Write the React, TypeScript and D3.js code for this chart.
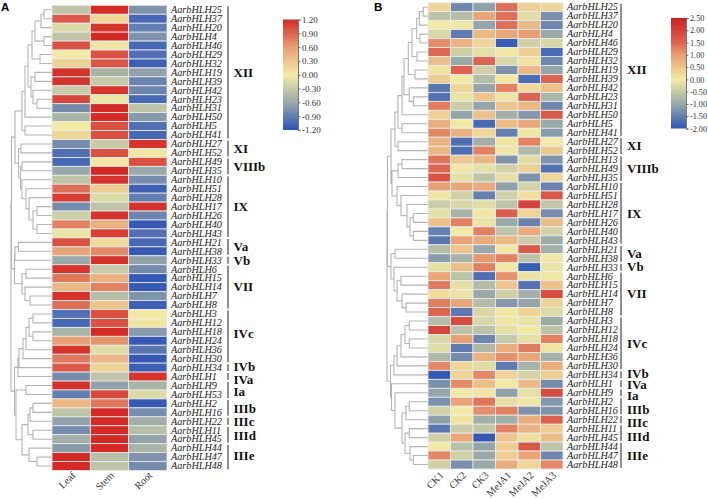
import { useEffect, useRef } from 'react';
import * as d3 from 'd3';

type TreeNode = number | (number | TreeNode)[];

const genesA = [25, 37, 20, 4, 46, 29, 32, 19, 39, 42, 23, 31, 50, 5, 41, 27, 52, 49, 35, 10, 51, 28, 17, 26, 40, 43, 21, 38, 33, 6, 15, 14, 7, 8, 3, 12, 18, 24, 36, 30, 34, 1, 9, 53, 2, 16, 22, 11, 45, 44, 47, 48];
const genesB = [25, 37, 20, 4, 46, 29, 32, 19, 39, 42, 23, 31, 50, 5, 41, 27, 52, 13, 49, 35, 10, 51, 28, 17, 26, 40, 43, 21, 38, 33, 6, 15, 14, 7, 8, 3, 12, 18, 24, 36, 30, 34, 1, 9, 2, 16, 22, 11, 45, 44, 47, 48];

const tissues = ['Leaf', 'Stem', 'Root'];
const treatments = ['CK1', 'CK2', 'CK3', 'MeJA1', 'MeJA2', 'MeJA3'];

const valuesA = [
  [-0.35, 1.2, -0.75], [0.95, 0.15, -1.05], [-0.15, 1.15, -0.9], [-0.35, 1.2, -0.75], [1.0, 0.05, -1.05],
  [0.0, 1.0, -1.0], [0.2, 0.98, -1.1], [1.15, -0.5, -0.65], [1.15, -0.3, -0.85], [-0.3, 1.15, -0.85],
  [1.05, -0.05, -1.05], [-0.8, 1.2, -0.35], [-0.5, 1.2, -0.7], [0.0, 1.0, -1.0], [0.15, 1.0, -1.05],
  [-0.8, -0.3, 1.15], [-1.0, 1.0, 0.03], [-1.05, 0.03, 1.0], [-0.6, 1.2, -0.6], [-0.35, 1.15, -0.8],
  [0.85, 0.25, -1.1], [1.1, -0.15, -0.9], [-0.8, -0.35, 1.15], [-0.25, 1.15, -0.85], [0.75, 0.45, -1.15],
  [-0.05, 1.1, -1.0], [1.0, 0.12, -1.05], [0.55, 0.7, -1.15], [-0.6, 1.15, -0.65], [1.15, -0.3, -0.8],
  [0.8, 0.45, -1.15], [0.4, 0.75, -1.15], [1.15, -0.4, -0.75], [0.85, 0.3, -1.1], [-1.0, 1.0, 0.02],
  [-1.05, 1.0, 0.03], [-0.5, 1.2, -0.7], [0.6, 0.65, -1.15], [1.15, -0.12, -0.95], [0.8, 0.4, -1.15],
  [0.95, 0.2, -1.1], [-0.8, -0.35, 1.15], [1.15, -0.65, -0.5], [-0.9, 1.05, -0.15], [0.4, 0.8, -1.15],
  [-0.35, 1.2, -0.8], [-0.65, 1.2, -0.55], [-0.8, 1.2, -0.4], [-0.55, 1.2, -0.65], [-0.7, 1.2, -0.5],
  [1.2, -0.4, -0.75], [1.2, -0.35, -0.8],
];

const valuesB = [
  [0.3, -1.4, -1.1, 1.4, 0.35, 0.25], [-0.6, -0.7, 0.9, 1.4, -0.2, -1.3], [0, -0.02, -1.05, 1.4, 0.65, -1.4],
  [-0.3, -1.55, 0.65, 0.9, 1.0, -1.0], [1.15, 0.75, 0.3, -1.9, -0.4, -0.3], [1.45, -0.4, -0.15, 0.05, 0.35, -1.75],
  [0.6, -1.0, 1.5, -0.3, 0.1, -1.4], [0.1, 1.55, -0.4, -1.25, 0.65, -1.05], [0.4, 0.02, -0.7, 0.02, -1.7, 1.5],
  [-1.6, 0.25, -1.05, 1.25, 0.2, 0.55], [-1.65, -0.1, 0.5, 0.1, 1.5, -0.8], [1.3, -0.45, -1.05, 0.5, 0.7, -1.4],
  [0.35, -1.05, 0.55, -0.9, -1.2, 1.65], [0.8, 0.02, -1.75, 0.6, 0.9, -1.0], [1.2, 0.75, 0.25, -1.5, 0.05, -1.15],
  [0.75, -1.7, -0.9, 0.1, 1.25, 0.0], [0.7, -1.7, 1.25, -0.05, -0.75, 0.45], [1.35, 0.45, 0.7, -1.25, -0.2, -1.25],
  [1.5, 0.03, -0.15, -0.4, 0.35, -1.65], [1.75, -0.15, -0.6, -0.15, -1.25, 0.25], [1.0, 0.9, 0.85, -1.1, -0.35, -1.45],
  [0.05, -0.4, -1.5, -0.4, 0.15, 1.7], [-0.45, -0.3, -0.2, -0.6, 2.0, -0.55], [-0.15, -0.85, 0.03, 1.6, 0.3, -1.35],
  [0.55, 1.25, -0.1, -1.0, -1.45, 0.6], [-1.5, 0.02, 1.25, -0.6, 0.85, -0.35], [-1.6, 0.95, 0.85, 0.65, -0.45, -0.95],
  [-0.7, 0.5, -1.0, 0.03, 1.65, -0.9], [-1.15, -0.85, 1.05, 1.25, -0.6, -0.02], [-0.15, 0.6, 1.25, 0.03, -1.9, -0.1],
  [0.9, -0.6, -1.7, 1.1, -0.1, -0.02], [1.3, -0.15, -0.7, 0.5, -1.65, 0.55], [0.2, -0.1, -1.0, -0.4, -0.9, 1.85],
  [1.3, 0.9, -0.7, -1.2, -1.05, 0.3], [1.5, -1.6, -0.3, 0.03, 0.3, -0.25], [-0.7, 1.85, -0.3, 0.05, -0.1, -0.95],
  [1.95, -0.6, -0.6, -0.15, 0.02, -0.6], [-0.3, 1.0, -1.4, -0.5, -0.15, 1.25], [-0.2, -1.55, -0.75, 0.8, 1.3, 0.1],
  [-0.75, -1.35, 0.75, 1.1, 0.9, -0.85], [1.2, 0.25, -0.2, -1.55, -0.85, 0.8], [-1.95, 0.3, 1.2, 0.3, -0.35, 0.35],
  [-1.3, 1.15, 0.6, 0.03, 0.65, -1.35], [-1.05, -0.02, 0.07, -1.1, -0.15, 1.85], [-1.3, 0.95, 1.35, -0.15, -0.02, -1.2],
  [-0.4, 0.02, 1.15, 1.25, -1.25, -1.25], [-1.1, 0.08, -0.9, -0.9, 0.8, 1.55], [-1.6, -0.45, -0.55, 1.25, 0.75, 0.4],
  [-0.4, 0.9, -1.95, 0.5, 0.15, 0.6], [0.02, -0.65, -1.05, 0.4, 1.7, -0.6], [1.2, -0.4, -1.0, 0.4, 0.95, -1.4],
  [-0.4, -1.3, -1.0, 0.85, 0.3, 1.2],
];

// subfamily name, first row, last row
const groupsA: [string, number, number][] = [
  ['XII', 0, 14], ['XI', 15, 16], ['VIIIb', 17, 18], ['IX', 19, 25], ['Va', 26, 27], ['Vb', 28, 28], ['VII', 29, 33],
  ['IVc', 34, 39], ['IVb', 40, 40], ['IVa', 41, 41], ['Ia', 42, 43], ['IIIb', 44, 45], ['IIIc', 46, 46], ['IIId', 47, 48], ['IIIe', 49, 51],
];
const groupsB: [string, number, number][] = [
  ['XII', 0, 14], ['XI', 15, 16], ['VIIIb', 17, 19], ['IX', 20, 26], ['Va', 27, 28], ['Vb', 29, 29], ['VII', 30, 34],
  ['IVc', 35, 40], ['IVb', 41, 41], ['IVa', 42, 42], ['Ia', 43, 43], ['IIIb', 44, 45], ['IIIc', 46, 46], ['IIId', 47, 48], ['IIIe', 49, 51],
];

// the labels are nudged off their bracket centre where they would collide
const labelShiftA = [0, 0, 0, 0, 0, 1, 0, -3, -1, 3, 2, 1, 1, 1, -1];
const labelShiftB = [0, 0, 0, 0, 0, 0, 0, 0, -1, 1, 3, 4, 3, 4, 0];

// clustering: [merge height, child, child], a plain number is a row
const treeA: TreeNode = [41,
  [40.5,
    [37,
      [30,
        [27,
          [24, [20, [17, [11, [8, 0, 1], 2], [8, 3, 4]], [12, 5, 6]], [21, [17, 7, 8], [19, 9, [15, 10, 11]]]],
          12],
        [27, 13, 14]],
      [33.5, [31, 15, 16], [31.5, [30, 17, 18], [30, 19, [26, 20, [23, 21, [19, [15, 22, 23], [15, 24, 25]]]]]]]],
    [37.5, [37, [33.5, 26, 27], 28], [30, [26, 29, 30], [27, 31, [22, 32, 33]]]]],
  [37.5,
    [34, [33, [29, [26, [23, [19, 34, 35], [19, 36, 37]], 38], 39], 40], 41],
    [36, [26, 42, 43], [30, [24, [22, [19, 44, 45], 46], [19, 47, 48]], [23, 49, [15, 50, 51]]]]],
];

const treeB: TreeNode = [41,
  [40.5,
    [37,
      [33,
        [30,
          [26,
            [24, [19.7, [16, [11.3, [8.7, [4.7, 0, 1], 2], [8, 3, 4]], [11, 5, 6]], [13, 7, 8]], [18.7, 9, [14.7, 10, 11]]],
            12],
          [26, 13, 14]],
        [30, 15, 16]],
      [36, [30, [26, 17, 18], 19], [31, 20, [27, 21, [21, 22, [18, [14.7, 23, 24], [14.7, 25, 26]]]]]]],
    [37, [33, 27, 28], [34, 29, [31, [27, 30, 31], [26, 32, [22, 33, 34]]]]]],
  [37.5,
    [34, [31, [27, [23, [18.7, 35, 36], [18.7, 37, 38]], 39], 40], 41],
    [36.5, 42, [33, 43, [26, [22, [18.7, 44, 45], 46], [23, [18.7, 47, 48], [18, 49, [14.7, 50, 51]]]]]]],
];

const rampColorsA = ['#2c52b6', '#9aa9a9', '#f2eaa6', '#e79f74', '#dc6452', '#d42a26'];
const rampStopsA = [-1.2, -0.6, 0, 0.6, 0.9, 1.2];
const rampColorsB = ['#2f55b5', '#9aa9a9', '#f2eaa6', '#e79f74', '#dc6452', '#cc2020'];
const rampStopsB = [-2, -1, 0, 1, 1.5, 2.5];

interface PanelConfig {
  letter: string;
  letterX: number;
  genes: number[];
  values: number[][];
  columns: string[];
  groups: [string, number, number][];
  labelShift: number[];
  tree: TreeNode;
  heatX: [number, number];
  heatY: [number, number];
  treeX: [number, number];
  treeMax: number;
  labelX: number;
  bracketX: number;
  groupX: number;
  legendX: number;
  legendY: [number, number];
  legendTicks: number[];
  legendFont: number;
  stops: number[];
  colors: string[];
}

const panelA: PanelConfig = {
  letter: 'A', letterX: 1, genes: genesA, values: valuesA, columns: tissues, groups: groupsA, labelShift: labelShiftA, tree: treeA,
  heatX: [52, 167], heatY: [5.3, 470.5], treeX: [52, 11], treeMax: 41,
  labelX: 171, bracketX: 228, groupX: 233.5, legendX: 283, legendY: [19.5, 130], legendFont: 9,
  legendTicks: [1.2, 0.9, 0.6, 0.3, 0, -0.3, -0.6, -0.9, -1.2], stops: rampStopsA, colors: rampColorsA,
};
const panelB: PanelConfig = {
  letter: 'B', letterX: 374, genes: genesB, values: valuesB, columns: treatments, groups: groupsB, labelShift: labelShiftB, tree: treeB,
  heatX: [428, 563], heatY: [2.7, 469], treeX: [428, 387], treeMax: 41,
  labelX: 567, bracketX: 621, groupX: 627, legendX: 671, legendY: [18, 128.5], legendFont: 8.2,
  legendTicks: [2.5, 2, 1.5, 1, 0.5, 0, -0.5, -1, -1.5, -2], stops: rampStopsB, colors: rampColorsB,
};

const drawPanel = (svg: d3.Selection<SVGSVGElement, unknown, null, undefined>, cfg: PanelConfig) => {
  const panel = svg.append('g');

  const x = d3.scaleBand<number>().domain(d3.range(cfg.columns.length)).range(cfg.heatX);
  const y = d3.scaleBand<number>().domain(d3.range(cfg.genes.length)).range(cfg.heatY);
  const color = d3.scaleLinear<string>().domain(cfg.stops).range(cfg.colors);
  const rowCenter = (i: number) => (y(i) as number) + y.bandwidth() / 2;
  const colMin = cfg.stops[0];
  const colMax = cfg.stops[cfg.stops.length - 1];

  panel.append('text')
    .attr('x', cfg.letterX).attr('y', 11)
    .attr('font-family', 'Liberation Sans').attr('font-weight', 700).attr('font-size', 11.5)
    .text(cfg.letter);

  // dendrogram
  const treeScale = d3.scaleLinear().domain([0, cfg.treeMax]).range(cfg.treeX);
  const root = d3.hierarchy<TreeNode>(cfg.tree, d => (Array.isArray(d) ? (d.slice(1) as TreeNode[]) : null));
  const rowY = new Map<d3.HierarchyNode<TreeNode>, number>();
  root.eachAfter(node => {
    if (node.children) {
      rowY.set(node, d3.mean(node.children, c => rowY.get(c)) as number);
    } else {
      rowY.set(node, rowCenter(node.data as number));
    }
  });
  const nodeHeight = (n: d3.HierarchyNode<TreeNode>) => (Array.isArray(n.data) ? (n.data[0] as number) : 0);
  const dendro = d3.path();
  root.descendants().filter(n => n.children).forEach(n => {
    const nx = treeScale(nodeHeight(n));
    const kids = n.children!;
    dendro.moveTo(treeScale(nodeHeight(kids[0])), rowY.get(kids[0])!);
    dendro.lineTo(nx, rowY.get(kids[0])!);
    dendro.lineTo(nx, rowY.get(kids[1])!);
    dendro.lineTo(treeScale(nodeHeight(kids[1])), rowY.get(kids[1])!);
  });
  panel.append('path')
    .attr('d', dendro.toString())
    .attr('fill', 'none').attr('stroke', '#b4b4b4').attr('stroke-width', 1.1);

  // heatmap cells
  cfg.values.forEach((row, r) => {
    panel.append('g').selectAll('rect').data(row).join('rect')
      .attr('x', (_, c) => x(c) as number)
      .attr('y', y(r) as number)
      .attr('width', x.bandwidth())
      .attr('height', y.bandwidth())
      .attr('fill', d => color(d))
      .attr('stroke', '#ececec')
      .attr('stroke-width', 0.8);
  });

  // gene names
  panel.append('g').selectAll('text').data(cfg.genes).join('text')
    .attr('x', cfg.labelX)
    .attr('y', (_, i) => rowCenter(i) + 3.3)
    .attr('font-family', 'Liberation Serif').attr('font-style', 'italic').attr('font-size', 10.2)
    .attr('fill', '#222')
    .text(d => `AarbHLH${d}`);

  // column names
  panel.append('g').selectAll('text').data(cfg.columns).join('text')
    .attr('transform', (_, c) => `translate(${(x(c) as number) + x.bandwidth() / 2 + 5},476) rotate(-45)`)
    .attr('text-anchor', 'end')
    .attr('font-family', 'Liberation Serif').attr('font-size', 10.2)
    .attr('fill', '#333')
    .text(d => d);

  // subfamily brackets
  cfg.groups.forEach(([name, first, last], i) => {
    const top = y(first) as number;
    const bottom = (y(last) as number) + y.bandwidth();
    panel.append('line')
      .attr('x1', cfg.bracketX).attr('x2', cfg.bracketX)
      .attr('y1', top + 1).attr('y2', bottom - 1)
      .attr('stroke', '#333').attr('stroke-width', 1.1);
    panel.append('text')
      .attr('x', cfg.groupX).attr('y', (top + bottom) / 2 + 4.2 + cfg.labelShift[i])
      .attr('font-family', 'Liberation Serif').attr('font-weight', 700).attr('font-size', 13)
      .attr('fill', '#111')
      .text(name);
  });

  // colour legend
  const legendScale = d3.scaleLinear().domain([colMin, colMax]).range([cfg.legendY[1], cfg.legendY[0]]);
  const gradId = `ramp-${cfg.letter}`;
  const grad = panel.append('linearGradient').attr('id', gradId)
    .attr('x1', 0).attr('x2', 0).attr('y1', 1).attr('y2', 0);
  cfg.stops.forEach(v => {
    grad.append('stop')
      .attr('offset', (v - colMin) / (colMax - colMin))
      .attr('stop-color', color(v));
  });
  panel.append('rect')
    .attr('x', cfg.legendX).attr('y', cfg.legendY[0])
    .attr('width', 15).attr('height', cfg.legendY[1] - cfg.legendY[0])
    .attr('fill', `url(#${gradId})`);
  const axis = panel.append('g')
    .attr('transform', `translate(${cfg.legendX + 15},0)`)
    .call(d3.axisRight(legendScale)
      .tickValues(cfg.legendTicks)
      .tickSize(2.5)
      .tickPadding(1.5)
      .tickFormat(d => (d as number).toFixed(2)));
  axis.select('.domain').attr('stroke', '#555').attr('stroke-width', 0.8);
  axis.selectAll('line').attr('stroke', '#555').attr('stroke-width', 0.8);
  axis.selectAll('text')
    .attr('font-family', 'Liberation Serif').attr('font-size', cfg.legendFont)
    .attr('fill', '#333');
};

export default function App() {
  const svgRef = useRef<SVGSVGElement>(null);

  useEffect(() => {
    if (!svgRef.current) return;
    const svg = d3.select(svgRef.current);
    svg.selectAll('*').remove();
    drawPanel(svg, panelA);
    drawPanel(svg, panelB);
  }, []);

  return (
    <svg
      ref={svgRef}
      width={708}
      height={499}
      style={{ position: 'absolute', left: 0, top: 0, background: '#fff' }}
    />
  );
}
